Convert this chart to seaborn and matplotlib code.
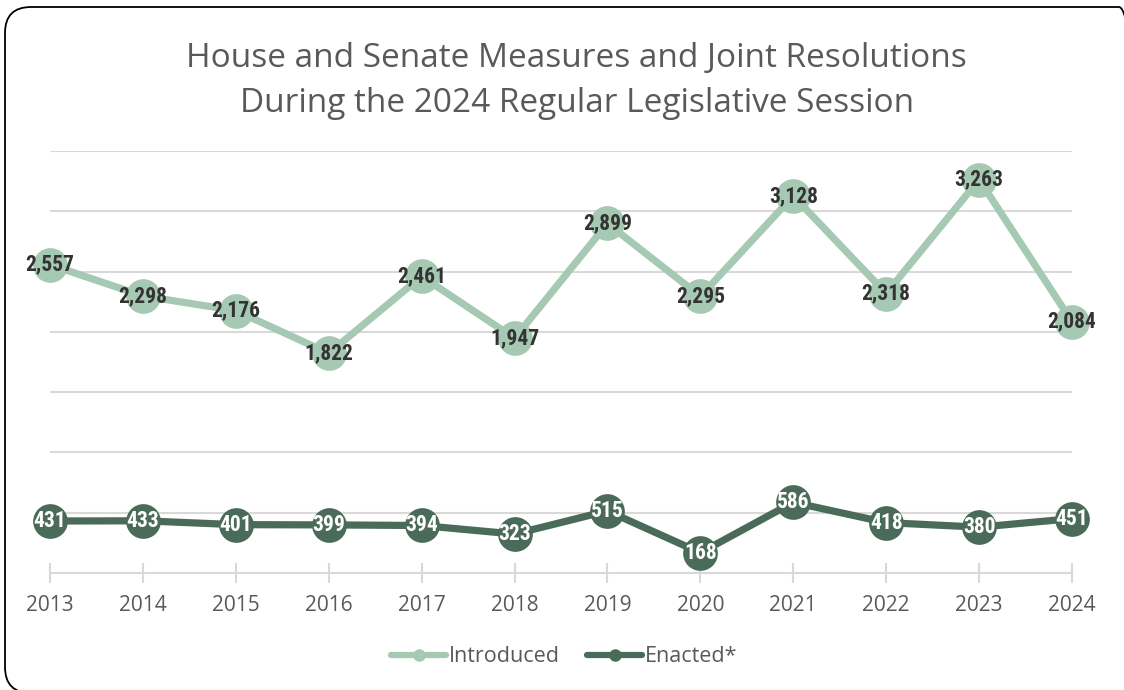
import matplotlib
matplotlib.use("Agg")
import matplotlib.pyplot as plt
from matplotlib.patches import FancyBboxPatch
from matplotlib.lines import Line2D
from matplotlib.transforms import IdentityTransform
import seaborn as sns
import pandas as pd

years = ["2013", "2014", "2015", "2016", "2017", "2018", "2019", "2020", "2021", "2022", "2023", "2024"]
introduced = [2557, 2298, 2176, 1822, 2461, 1947, 2899, 2295, 3128, 2318, 3263, 2084]
enacted = [431, 433, 401, 399, 394, 323, 515, 168, 586, 418, 380, 451]

title = "House and Senate Measures and Joint Resolutions\nDuring the 2024 Regular Legislative Session"
series_names = ["Introduced", "Enacted*"]

c_intro = "#a6c9b3"
c_enact = "#4b6b5a"
grid_c = "#d9d9d9"
text_c = "#595959"

sns.set_theme(style="white")
plt.rcParams["font.family"] = ["Open Sans", "DejaVu Sans"]

fig = plt.figure(figsize=(11.24, 6.90), dpi=100)
ax = fig.add_axes([50 / 1124, 1 - 573 / 690, (1072 - 50) / 1124, (573 - 151) / 690])

df = pd.DataFrame({"x": list(range(len(years))), "Introduced": introduced, "Enacted": enacted})

for col, color, tc in [("Introduced", c_intro, "#333333"), ("Enacted", c_enact, "white")]:
    sns.lineplot(data=df, x="x", y=col, ax=ax, color=color, linewidth=5.2,
                 marker="o", markersize=25, markeredgewidth=0, clip_on=False, zorder=3)
    for xi, v in zip(df["x"], df[col]):
        ax.text(xi, v, f"{v:,}", ha="center", va="center", color=tc, fontsize=15.5,
                fontweight="bold", fontstretch="condensed",
                family=["Roboto Condensed", "Roboto", "DejaVu Sans"],
                zorder=5, clip_on=False)

ax.set_xlim(0, len(years) - 1)
ax.set_ylim(0, 3500)
ax.set_yticks(range(500, 3501, 500))
ax.set_yticklabels([])
ax.yaxis.grid(True, color=grid_c, linewidth=1.5)
ax.tick_params(axis="y", length=0, left=False)
ax.set_xticks(range(len(years)))
ax.set_xticklabels(years, fontsize=15, color=text_c)
ax.tick_params(axis="x", bottom=True, direction="inout", length=14, width=1.5,
               color=grid_c, pad=9)
for s in ["top", "right", "left"]:
    ax.spines[s].set_visible(False)
ax.spines["bottom"].set_color(grid_c)
ax.spines["bottom"].set_linewidth(1.5)
ax.set_xlabel("")
ax.set_ylabel("")

fig.text(0.513, 1 - 81 / 690, title, ha="center", va="center", fontsize=24,
         color=text_c, linespacing=1.47)

handles = [Line2D([0], [0], color=c_intro, lw=4.5, marker="o", markersize=8, solid_capstyle="round"),
           Line2D([0], [0], color=c_enact, lw=4.5, marker="o", markersize=8, solid_capstyle="round")]
leg = fig.legend(handles, series_names, loc="center", bbox_to_anchor=(0.502, 1 - 657 / 690),
                 ncol=2, frameon=False, fontsize=15.5, handlelength=2.55, handletextpad=0.1,
                 columnspacing=1.3)
for t in leg.get_texts():
    t.set_color(text_c)

box = FancyBboxPatch((5, -3), 1140, 686, boxstyle="round,pad=0,rounding_size=26",
                     transform=IdentityTransform(), fill=False, edgecolor="black", linewidth=1.3)
fig.patches.append(box)

fig.savefig("out.png", dpi=100)
